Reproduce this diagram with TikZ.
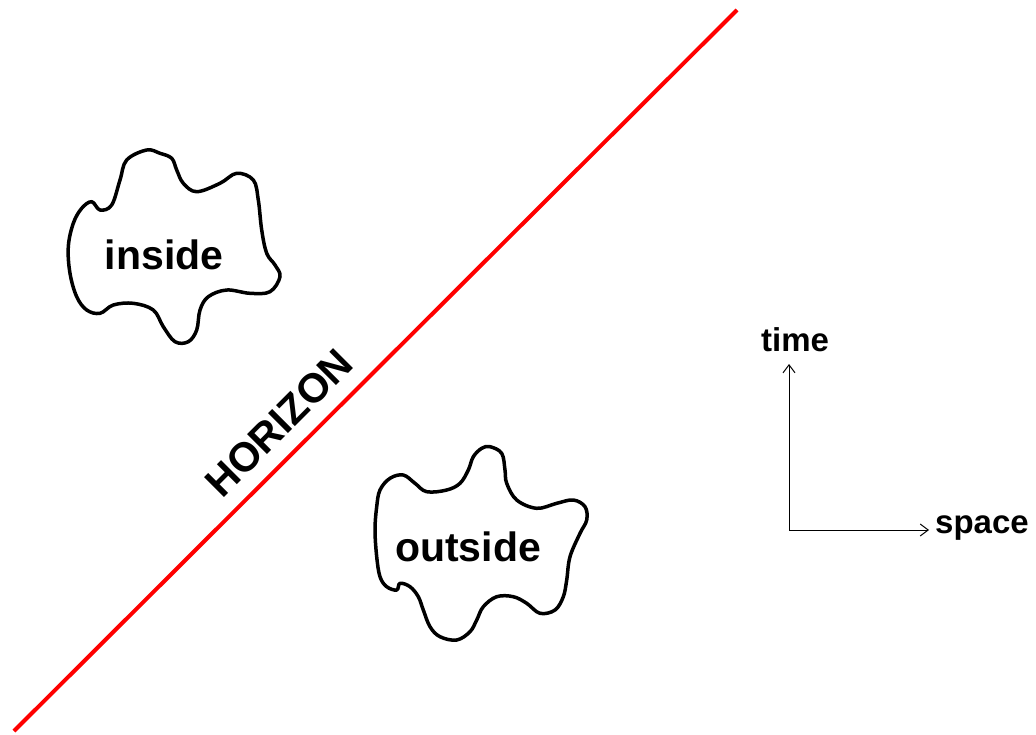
\documentclass[tikz,border=0pt]{standalone}
\usepackage{fontspec}
\setmainfont{Liberation Sans}
\usetikzlibrary{arrows.meta}

\tikzset{
  blob/.style = {line width = 1.75pt, line join = round},
  biglabel/.style = {font = \fontsize{20.5}{24}\selectfont\bfseries, inner sep = 0pt},
  axislabel/.style = {font = \fontsize{16.5}{20}\selectfont\bfseries, inner sep = 0pt},
  axis/.style = {line width = 0.5pt, -{Straight Barb[length=4pt, width=6pt]}}
}

\begin{document}
\begin{tikzpicture}[x = 0.5pt, y = -0.5pt]
    \useasboundingbox (0, 0) rectangle (1036, 734);

    % horizon
    \coordinate (hbot) at (14, 731);
    \coordinate (htop) at (737, 10);
    \draw[red, line width = 2pt] (hbot) -- (htop);
    \node[biglabel, rotate = 45] (horizon) at (279, 423) {HORIZON};

    % inside region
    \draw[blob] plot[smooth cycle, tension = 0.6] coordinates {
      (146.7,150) (126.7,160) (120,180) (111.7,205) (100,210) (91.7,201.7)
      (81.7,208.3) (73.3,223.3) (68.3,246.7) (70,273.3) (76.7,296.7)
      (86.7,310) (100,313.3) (113.3,305) (133.3,303.3) (153.3,310)
      (163.3,326.7) (175,341.7) (188.3,341.7) (196.7,330) (200,310)
      (208.3,296.7) (226.7,290) (250,293.3) (270,291.7) (280,276.7)
      (275,265) (266.7,253.3) (261.7,230) (258.3,200) (253.3,180)
      (236.7,173.3) (220,183.3) (196.7,191.7) (183.3,183.3) (176.7,170)
      (171.7,158.3) (160,153.3)};
    \node[biglabel] (inside) at (164, 255) {inside};

    % outside region
    \draw[blob] plot[smooth cycle, tension = 0.6] coordinates {
      (490,446.7) (501.7,453.3) (505,470) (506.7,483.3) (516.7,500)
      (536.7,508.3) (556.7,503.3) (573.3,500) (585,506.7) (586.7,520)
      (580,533.3) (570,556.7) (566.7,580) (563.3,596.7) (555,610)
      (540,613.3) (526.7,603.3) (513.3,596.7) (496.7,596.7) (483.3,606.7)
      (476.7,620) (470,631.7) (456.7,640) (440,636.7) (430,626.7)
      (423.3,610) (418.3,596.7) (410,586.7) (400,583.3) (396.7,590)
      (386.7,586.7) (380,576.7) (376.7,556.7) (375,530) (376.7,506.7)
      (380,490) (390,478.3) (403.3,475) (415,483.3) (426.7,491.7)
      (446.7,490) (460,483.3) (468.3,470) (473.3,456.7) (481.7,448.3)};
    \node[biglabel] (outside) at (468, 547) {outside};

    % axes
    \coordinate (origin) at (789, 530);
    \coordinate (ttip) at (789, 364);
    \coordinate (stip) at (929, 530);
    \draw[axis] (origin) -- (ttip);
    \draw[axis] (origin) -- (stip);
    \node[axislabel] (time) at (795, 340) {time};
    \node[axislabel] (space) at (982, 528) {space};

\end{tikzpicture}
\end{document}
